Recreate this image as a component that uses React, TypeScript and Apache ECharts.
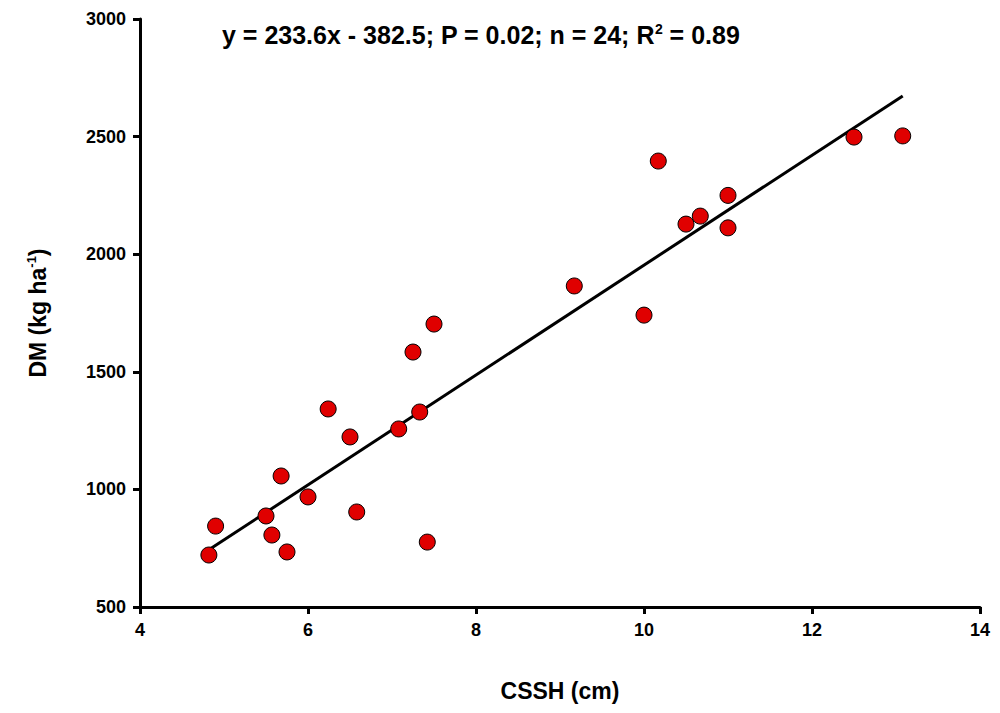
import { useEffect, useRef } from "react";
import * as echarts from "echarts";

const xVals = [4.82, 4.9, 5.5, 5.57, 5.75, 5.68, 6.0, 6.24, 6.58, 6.5, 7.08, 7.33, 7.25, 7.5, 7.42, 9.17, 10.0, 10.17, 10.5, 10.67, 11.0, 11.0, 12.5, 13.08];
const yVals = [721, 844, 887, 806, 734, 1057, 968, 1342, 904, 1223, 1257, 1329, 1584, 1703, 776, 1865, 1741, 2396, 2128, 2162, 2250, 2112, 2498, 2503];
const slope = 233.6;
const intercept = -382.5;
const fitRange = [4.82, 13.08];

const font = "'Liberation Sans', Arial, sans-serif";

export default function App() {
  const ref = useRef<HTMLDivElement>(null);

  useEffect(() => {
    document.body.style.margin = "0";
    if (!ref.current) return;
    const ch = echarts.init(ref.current, null, { renderer: "svg" });
    ch.setOption({
      animation: false,
      backgroundColor: "#fff",
      textStyle: { fontFamily: font },
      grid: { left: 140, right: 20, top: 19, bottom: 106 },
      title: {
        text: "{a|y = 233.6x - 382.5; P = 0.02; n = 24; R}{s|2}{a| = 0.89}",
        left: 217, top: 17,
        textStyle: {
          rich: {
            a: { fontFamily: font, fontSize: 25, fontWeight: "bold", color: "#000", letterSpacing: 0.8 },
            s: { fontFamily: font, fontSize: 14, fontWeight: "bold", color: "#000", verticalAlign: "top", padding: [0, 0, 12, 0] },
          },
        },
      },
      xAxis: {
        type: "value", min: 4, max: 14, interval: 2,
        name: "CSSH (cm)", nameLocation: "middle", nameGap: 72,
        nameTextStyle: { fontSize: 23, fontWeight: "bold", color: "#000" },
        axisLine: { lineStyle: { color: "#000", width: 3 } },
        axisTick: { lineStyle: { color: "#000", width: 3 }, length: 7 },
        axisLabel: { fontSize: 18, fontWeight: "bold", color: "#000", margin: 14 },
        splitLine: { show: false },
      },
      yAxis: {
        type: "value", min: 500, max: 3000, interval: 500,
        name: "{a|DM (kg ha}{s|-1}{a|)}", nameLocation: "middle", nameGap: 90,
        nameTextStyle: {
          rich: {
            a: { fontFamily: font, fontSize: 23, fontWeight: "bold", color: "#000" },
            s: { fontFamily: font, fontSize: 13, fontWeight: "bold", color: "#000", verticalAlign: "top", padding: [0, 0, 12, 0] },
          },
        },
        axisLine: { show: true, lineStyle: { color: "#000", width: 3 } },
        axisTick: { show: true, lineStyle: { color: "#000", width: 3 }, length: 7 },
        axisLabel: { fontSize: 18, fontWeight: "bold", color: "#000", margin: 14, formatter: (v: number) => String(v) },
        splitLine: { show: false },
      },
      series: [
        {
          type: "line",
          data: fitRange.map(x => [x, slope * x + intercept]),
          symbol: "none",
          lineStyle: { color: "#000", width: 3 },
          z: 1,
        },
        {
          type: "scatter",
          data: xVals.map((x, i) => [x, yVals[i]]),
          symbolSize: 16,
          itemStyle: { color: "#e00000", borderColor: "#000", borderWidth: 1, opacity: 1 },
          z: 2,
        },
      ],
    });
    return () => ch.dispose();
  }, []);

  return <div ref={ref} style={{ width: 1000, height: 713 }} />;
}
